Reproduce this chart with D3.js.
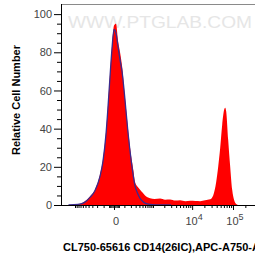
<!DOCTYPE html>
<html>
<head>
<meta charset="utf-8">
<script src="https://cdn.jsdelivr.net/npm/d3@7"></script>
<style>
  body { margin: 0; background: #fff; }
  svg { display: block; font-family: "Liberation Sans", Arial, sans-serif; }
</style>
</head>
<body>
<div id="chart"></div>
<script>
// channel values (fluorescence) and relative counts
const sampleX = [-1500, -830, -519, -361, -242, -151, -108, -72, -51, -32, -15, 0, 15, 32, 51, 72, 108, 151, 202, 250, 285, 350, 419, 500, 596, 700, 830, 1100, 1551, 2100, 2817, 3800, 5034, 6800, 8925, 12000, 15750, 20900, 27700, 32840, 38870, 43520, 48720, 54500, 61000, 64560, 68270, 76370, 85450, 95600, 107000, 119700, 134000];
const sampleY = [0, 0.3, 2, 4.5, 8, 16, 24, 38, 52, 68, 83, 94, 95, 86, 80, 73, 56, 40, 26, 18, 12, 9.5, 8, 6.5, 5, 4, 3.6, 3.2, 3.4, 2.8, 2.9, 2.3, 2.5, 2, 2.2, 2.1, 2, 2.5, 3, 5, 12, 20, 30, 42, 50, 51, 49, 34, 20, 8, 2.5, 0.5, 0];

const controlX = [-1500, -830, -519, -361, -242, -151, -108, -72, -51, -32, -15, 0, 15, 32, 51, 72, 108, 151, 202, 285, 350, 419, 500, 596, 830, 1551, 3000];
const controlY = [0, 0.3, 1.5, 4, 7.5, 15, 23, 37, 51, 67, 82, 92, 90, 83, 76, 70, 55, 38, 24, 10, 6, 3.5, 2, 1, 0.3, 0, 0];

const yTicks = [0, 20, 40, 60, 80, 100];
const xMajor = [0, 1e4, 1e5];
const xLabels = [["0", ""], ["10", "4"], ["10", "5"]];

const xTitle = "CL750-65616 CD14(26IC),APC-A750-A";
const yTitle = "Relative Cell Number";
const watermark = "WWW.PTGLAB.COM";

const w = 255, h = 260;
const pl = 61, pt = 4, pr = 262, pb = 205;

const xScale = d3.scaleSymlog().constant(126.6).domain([0, 1e5]).range([114, 233]);
xScale.domain([xScale.invert(pl), xScale.invert(pr)]).range([pl, pr]);

const yScale = d3.scaleLinear().domain([0, 105.3]).range([pb, pt]);

const svg = d3.select("#chart").append("svg")
  .attr("width", w)
  .attr("height", h);

svg.append("clipPath").attr("id", "plot")
  .append("rect")
  .attr("x", pl).attr("y", pt)
  .attr("width", pr - pl).attr("height", pb - pt);

// watermark
svg.append("text")
  .attr("x", 68).attr("y", 28)
  .attr("textLength", 184)
  .attr("lengthAdjust", "spacingAndGlyphs")
  .style("font-size", "17px")
  .style("fill", "#e6e6e6")
  .text(watermark);

const sample = sampleX.map((x, i) => ({x: x, y: sampleY[i]}));
const control = controlX.map((x, i) => ({x: x, y: controlY[i]}));

const area = d3.area()
  .x(d => xScale(d.x))
  .y0(yScale(0))
  .y1(d => yScale(d.y))
  .curve(d3.curveMonotoneX);

const line = d3.line()
  .x(d => xScale(d.x))
  .y(d => yScale(d.y))
  .curve(d3.curveMonotoneX);

const g = svg.append("g").attr("clip-path", "url(#plot)");

g.append("path")
  .datum(sample)
  .attr("d", area)
  .style("fill", "#ff0000");

g.append("path")
  .datum(control)
  .attr("d", line)
  .style("fill", "none")
  .style("stroke", "#3b2a8c")
  .style("stroke-width", 1.3);

// frame top
svg.append("line")
  .attr("x1", pl).attr("x2", pr)
  .attr("y1", pt + 0.5).attr("y2", pt + 0.5)
  .style("stroke", "#8a8a8a")
  .style("stroke-width", 1.2);

// y axis
const yAxis = d3.axisLeft(yScale).tickValues(yTicks).tickSize(7).tickPadding(2);
const ya = svg.append("g")
  .attr("transform", "translate(" + pl + ",0)")
  .call(yAxis);
ya.select(".domain").attr("d", "M0.5," + pt + "V" + (pb + 0.5));

const yMinor = d3.range(5, 105, 5).filter(v => v % 20 !== 0);
ya.selectAll(".minor")
  .data(yMinor)
  .enter().append("line")
  .attr("class", "minor")
  .attr("x1", 0).attr("x2", -4)
  .attr("y1", d => yScale(d) + 0.5).attr("y2", d => yScale(d) + 0.5)
  .style("stroke", "#000");

// x axis
const xAxis = d3.axisBottom(xScale).tickValues(xMajor).tickSize(5).tickFormat("");
const xa = svg.append("g")
  .attr("transform", "translate(0," + pb + ")")
  .call(xAxis);
xa.select(".domain").attr("d", "M" + pl + ",0.5H" + pr);

let xMinor = [];
for (let k = 100; k <= 1000; k += 100) xMinor.push(-k, k);
for (let k = 10; k <= 40; k += 10) xMinor.push(-k, k);
for (let k = 2000; k <= 9000; k += 1000) xMinor.push(k);
for (let k = 20000; k <= 90000; k += 10000) xMinor.push(k);
xMinor.push(200000);

xa.selectAll(".minor")
  .data(xMinor)
  .enter().append("line")
  .attr("class", "minor")
  .attr("y1", 0).attr("y2", 3)
  .attr("x1", d => xScale(d) + 0.5).attr("x2", d => xScale(d) + 0.5)
  .style("stroke", "#000");

svg.selectAll(".tick text")
  .style("font-size", "11px")
  .style("fill", "#444");

const lab = svg.selectAll(".xlab")
  .data(xMajor)
  .enter().append("text")
  .attr("class", "xlab")
  .attr("x", d => xScale(d) + 2)
  .attr("y", 225)
  .attr("text-anchor", "middle")
  .style("font-size", "11px")
  .style("fill", "#444");
lab.append("tspan").text((d, i) => xLabels[i][0]);
lab.append("tspan")
  .attr("dy", -5)
  .style("font-size", "9px")
  .text((d, i) => xLabels[i][1]);

// titles
svg.append("text")
  .attr("transform", "translate(16," + 100 + ") rotate(-90)")
  .attr("text-anchor", "middle")
  .attr("dominant-baseline", "central")
  .style("font-size", "11px")
  .style("font-weight", "bold")
  .text(yTitle);

svg.append("text")
  .attr("x", 63).attr("y", 251)
  .style("font-size", "11px")
  .style("font-weight", "bold")
  .text(xTitle);
</script>
</body>
</html>
